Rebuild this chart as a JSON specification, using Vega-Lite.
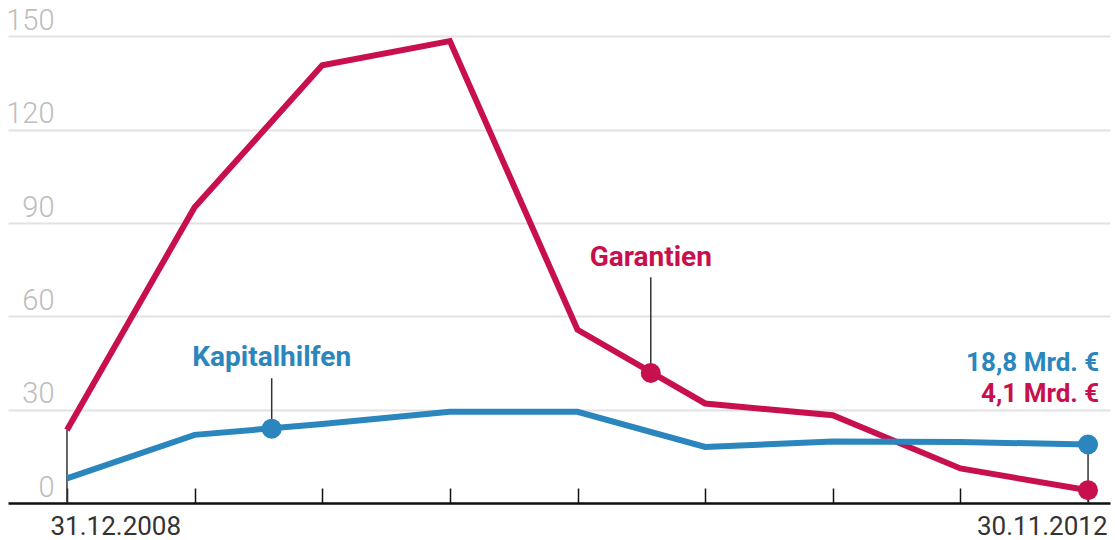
{
  "$schema": "https://vega.github.io/schema/vega-lite/v6.json",
  "width": 1102,
  "height": 503,
  "autosize": {"type": "none"},
  "padding": {"left": 8, "top": 0, "right": 5, "bottom": 37},
  "background": "white",
  "config": {"view": {"stroke": null}, "font": "Roboto"},
  "datasets": {
    "series": [
      {"t": 0, "series": "Garantien", "value": 23.5},
      {"t": 1, "series": "Garantien", "value": 95.1},
      {"t": 2, "series": "Garantien", "value": 140.7},
      {"t": 3, "series": "Garantien", "value": 148.5},
      {"t": 4, "series": "Garantien", "value": 55.7},
      {"t": 5, "series": "Garantien", "value": 32.0},
      {"t": 6, "series": "Garantien", "value": 28.2},
      {"t": 7, "series": "Garantien", "value": 11.1},
      {"t": 8, "series": "Garantien", "value": 4.1},
      {"t": 0, "series": "Kapitalhilfen", "value": 7.9},
      {"t": 1, "series": "Kapitalhilfen", "value": 21.9},
      {"t": 2, "series": "Kapitalhilfen", "value": 25.4},
      {"t": 3, "series": "Kapitalhilfen", "value": 29.3},
      {"t": 4, "series": "Kapitalhilfen", "value": 29.3},
      {"t": 5, "series": "Kapitalhilfen", "value": 18.0},
      {"t": 6, "series": "Kapitalhilfen", "value": 19.8},
      {"t": 7, "series": "Kapitalhilfen", "value": 19.6},
      {"t": 8, "series": "Kapitalhilfen", "value": 18.8}
    ],
    "markers": [
      {"t": 1.604, "series": "Kapitalhilfen", "value": 23.9},
      {"t": 4.574, "series": "Garantien", "value": 41.8},
      {"t": 8, "series": "Kapitalhilfen", "value": 18.8},
      {"t": 8, "series": "Garantien", "value": 4.1}
    ],
    "rules": [
      {"t": 0, "from": 0, "to": 23.5},
      {"t": 8, "from": 0, "to": 18.8},
      {"t": 1.604, "from": 23.9, "to": 40.1},
      {"t": 4.574, "from": 41.8, "to": 72.6}
    ],
    "names": [
      {"t": 1.604, "series": "Kapitalhilfen", "value": 43.9, "label": "Kapitalhilfen"},
      {"t": 4.574, "series": "Garantien", "value": 76.1, "label": "Garantien"}
    ],
    "ends": [
      {"t": 8.088, "series": "Kapitalhilfen", "value": 42.4, "label": "18,8 Mrd. €"},
      {"t": 8.088, "series": "Garantien", "value": 32.6, "label": "4,1 Mrd. €"}
    ]
  },
  "encoding": {
    "x": {
      "field": "t",
      "type": "quantitative",
      "scale": {"domain": [-0.462, 8.172], "nice": false, "zero": false},
      "axis": {
        "values": [0, 1, 2, 3, 4, 5, 6, 7, 8],
        "title": null,
        "grid": false,
        "domainColor": "#111111",
        "domainWidth": 2.5,
        "tickColor": "#111111",
        "tickWidth": 1.5,
        "tickSize": -15,
        "labelExpr": "datum.value == 0 ? '31.12.2008' : (datum.value == 8 ? '30.11.2012' : '')",
        "labelAlign": {"expr": "datum.value < 4 ? 'left' : 'right'"},
        "labelOffset": {"expr": "datum.value < 4 ? -17 : 19"},
        "labelBaseline": "top",
        "labelPadding": 25,
        "labelFont": "Roboto",
        "labelFontSize": 26,
        "labelColor": "#333333",
        "labelFlush": false,
        "labelOverlap": false
      }
    },
    "y": {
      "field": "value",
      "type": "quantitative",
      "scale": {"domain": [0, 161.7], "nice": false},
      "axis": {
        "values": [0, 30, 60, 90, 120, 150],
        "title": null,
        "grid": true,
        "gridColor": "#e2e2e2",
        "gridWidth": 2,
        "domain": false,
        "ticks": false,
        "tickSize": 0,
        "labelPadding": -46,
        "labelAlign": "right",
        "labelBaseline": "alphabetic",
        "labelOffset": -7,
        "labelFont": "Roboto",
        "labelFontWeight": 300,
        "labelFontSize": 29,
        "labelColor": "#bdbdbd",
        "labelFlush": false
      }
    }
  },
  "layer": [
    {
      "data": {"name": "rules"},
      "mark": {"type": "rule", "color": "#333333", "strokeWidth": 1.5},
      "encoding": {
        "y": {"field": "from", "type": "quantitative"},
        "y2": {"field": "to"}
      }
    },
    {
      "data": {"name": "series"},
      "mark": {"type": "line", "strokeWidth": 6, "strokeJoin": "miter"},
      "encoding": {
        "color": {
          "field": "series",
          "type": "nominal",
          "scale": {"domain": ["Garantien", "Kapitalhilfen"], "range": ["#c8104e", "#2a86bd"]},
          "legend": null
        },
        "order": {"field": "t", "type": "quantitative"},
        "detail": {"field": "series"}
      }
    },
    {
      "data": {"name": "markers"},
      "mark": {"type": "point", "filled": true, "opacity": 1, "size": 400, "shape": "circle"},
      "encoding": {
        "color": {"field": "series", "type": "nominal", "legend": null}
      }
    },
    {
      "data": {"name": "names"},
      "mark": {"type": "text", "align": "center", "baseline": "alphabetic", "font": "Roboto", "fontWeight": "bold", "fontSize": 28},
      "encoding": {
        "text": {"field": "label"},
        "color": {"field": "series", "type": "nominal", "legend": null}
      }
    },
    {
      "data": {"name": "ends"},
      "mark": {"type": "text", "align": "right", "baseline": "alphabetic", "font": "Roboto", "fontWeight": "bold", "fontSize": 26},
      "encoding": {
        "text": {"field": "label"},
        "color": {"field": "series", "type": "nominal", "legend": null}
      }
    }
  ]
}
